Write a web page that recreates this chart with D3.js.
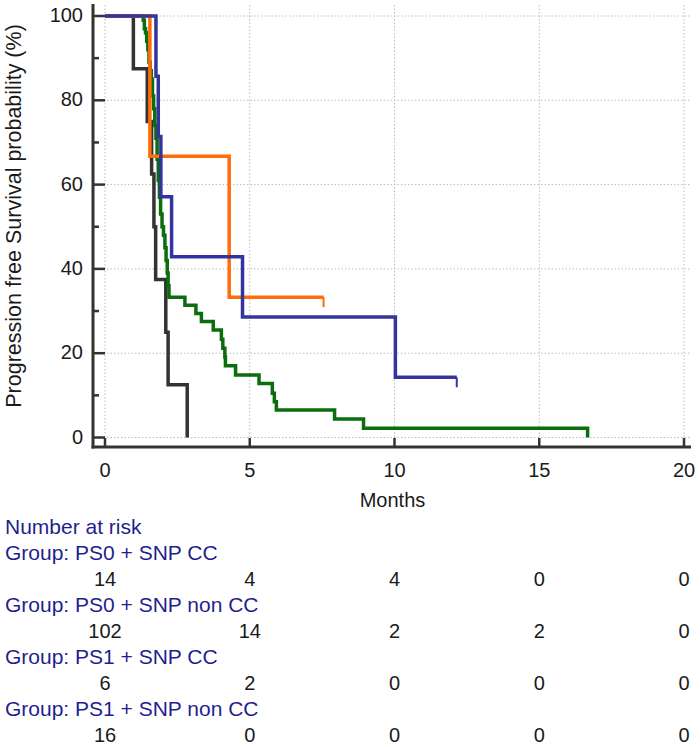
<!DOCTYPE html>
<html>
<head>
<meta charset="utf-8">
<script src="https://cdn.jsdelivr.net/npm/d3@7"></script>
<style>
  body { margin: 0; background: #fff; }
  svg { display: block; font-family: "Liberation Sans", Arial, sans-serif; }
</style>
</head>
<body>
<div id="chart"></div>
<script>
// step data (months, survival %)
var groupNames = ["PS0 + SNP CC", "PS0 + SNP non CC", "PS1 + SNP CC", "PS1 + SNP non CC"];
var groupColors = ["#34349e", "#0b6d0b", "#ff6d0a", "#333333"];

var ps0ccTimes = [0, 1.76, 1.84, 1.93, 2.30, 4.75, 10.03];
var ps0ccSurv  = [100, 85.7, 71.4, 57.1, 42.9, 28.6, 14.3];
var ps0ccEnd = 12.15;
var ps0ccCensor = [12.15];

var ps0nonTimes = [0, 1.32, 1.36, 1.40, 1.44, 1.48, 1.52, 1.56, 1.60, 1.64, 1.68, 1.72, 1.76, 1.80, 1.84, 1.88,
  1.92, 1.97, 2.02, 2.07, 2.11, 2.15, 2.18, 2.21, 2.76, 3.14, 3.33, 3.74, 4.02, 4.07, 4.14, 4.16, 4.51,
  5.32, 5.78, 5.85, 5.92, 7.93, 8.93, 16.67];
var ps0nonSurv  = [100, 99, 97, 96, 94, 92, 89, 87, 85, 81, 78, 74, 71, 66, 61, 57,
  53, 50, 48, 45, 42, 39, 36, 33.3, 31.4, 29.4, 27.5, 25.5, 23.3, 21.2, 19.1, 17.0, 14.8,
  12.8, 10.5, 8.5, 6.5, 4.4, 2.2, 0];
var ps0nonEnd = 16.67;
var ps0nonCensor = [];

var ps1ccTimes = [0, 1.55, 4.29];
var ps1ccSurv  = [100, 66.7, 33.3];
var ps1ccEnd = 7.55;
var ps1ccCensor = [7.55];

var ps1nonTimes = [0, 0.98, 1.46, 1.61, 1.69, 1.75, 2.10, 2.18, 2.84];
var ps1nonSurv  = [100, 87.5, 75, 62.5, 50, 37.5, 25, 12.5, 0];
var ps1nonEnd = 2.84;
var ps1nonCensor = [];

// number at risk at 0, 5, 10, 15, 20 months
var riskTimes = [0, 5, 10, 15, 20];
var riskPs0cc  = [14, 4, 4, 0, 0];
var riskPs0non = [102, 14, 2, 2, 0];
var riskPs1cc  = [6, 2, 0, 0, 0];
var riskPs1non = [16, 0, 0, 0, 0];

var xTicks = [0, 5, 10, 15, 20];
var yTicks = [0, 20, 40, 60, 80, 100];
var yMinorTicks = [10, 30, 50, 70, 90];

var curves = [
  {name: groupNames[3], color: groupColors[3], t: ps1nonTimes, s: ps1nonSurv, end: ps1nonEnd, censor: ps1nonCensor},
  {name: groupNames[1], color: groupColors[1], t: ps0nonTimes, s: ps0nonSurv, end: ps0nonEnd, censor: ps0nonCensor},
  {name: groupNames[2], color: groupColors[2], t: ps1ccTimes, s: ps1ccSurv, end: ps1ccEnd, censor: ps1ccCensor},
  {name: groupNames[0], color: groupColors[0], t: ps0ccTimes, s: ps0ccSurv, end: ps0ccEnd, censor: ps0ccCensor}
];

var riskRows = [
  {name: groupNames[0], n: riskPs0cc},
  {name: groupNames[1], n: riskPs0non},
  {name: groupNames[2], n: riskPs1cc},
  {name: groupNames[3], n: riskPs1non}
];

var width = 700, height = 747;
var axisColor = "#333333", tableBlue = "#1f1f8f", textColor = "#1a1a1a";

var x = d3.scaleLinear().domain([0, 20]).range([105, 684]);
var y = d3.scaleLinear().domain([0, 100]).range([437.5, 16]);

var svg = d3.select("#chart").append("svg")
    .attr("width", width)
    .attr("height", height);

svg.append("rect").attr("width", width).attr("height", height).attr("fill", "#fff");

// grid
var grid = svg.append("g").attr("stroke", "#bdbdbd").attr("stroke-width", 1).attr("stroke-dasharray", "1.5,2");
grid.selectAll(".gx").data(xTicks).enter().append("line")
    .attr("x1", function(d){ return x(d); }).attr("x2", function(d){ return x(d); })
    .attr("y1", 5).attr("y2", 447);
grid.selectAll(".gy").data(yTicks).enter().append("line")
    .attr("x1", 93).attr("x2", 690)
    .attr("y1", function(d){ return y(d); }).attr("y2", function(d){ return y(d); });

// survival curves
var line = d3.line()
    .x(function(d){ return x(d[0]); })
    .y(function(d){ return y(d[1]); })
    .curve(d3.curveStepAfter);

curves.forEach(function(c){
  var pts = c.t.map(function(t, i){ return [t, c.s[i]]; });
  pts.push([c.end, c.s[c.s.length - 1]]);
  svg.append("path")
      .attr("d", line(pts))
      .attr("fill", "none")
      .attr("stroke", c.color)
      .attr("stroke-width", 3.5)
      .attr("stroke-linejoin", "miter");
  c.censor.forEach(function(t){
    var s = c.s[d3.bisectRight(c.t, t) - 1];
    svg.append("line")
        .attr("x1", x(t)).attr("x2", x(t))
        .attr("y1", y(s)).attr("y2", y(s) + 10)
        .attr("stroke", c.color).attr("stroke-width", 2);
  });
});

// axes
var axes = svg.append("g").attr("stroke", axisColor);
axes.append("line").attr("x1", 93).attr("x2", 93).attr("y1", 4).attr("y2", 448.5).attr("stroke-width", 3);
axes.append("line").attr("x1", 91.5).attr("x2", 691).attr("y1", 447).attr("y2", 447).attr("stroke-width", 3);
axes.selectAll(".ty").data(yTicks).enter().append("line")
    .attr("x1", 93).attr("x2", 105)
    .attr("y1", function(d){ return y(d); }).attr("y2", function(d){ return y(d); })
    .attr("stroke-width", 2.5);
axes.selectAll(".tym").data(yMinorTicks).enter().append("line")
    .attr("x1", 93).attr("x2", 99)
    .attr("y1", function(d){ return y(d); }).attr("y2", function(d){ return y(d); })
    .attr("stroke-width", 2.5);
axes.selectAll(".tx").data(xTicks).enter().append("line")
    .attr("x1", function(d){ return x(d); }).attr("x2", function(d){ return x(d); })
    .attr("y1", 447).attr("y2", 438)
    .attr("stroke-width", 2.5);

// tick labels
svg.selectAll(".ly").data(yTicks).enter().append("text")
    .attr("x", 83).attr("y", function(d){ return y(d) + 6; })
    .attr("text-anchor", "end").attr("font-size", 20).attr("fill", textColor)
    .text(function(d){ return d; });
svg.selectAll(".lx").data(xTicks).enter().append("text")
    .attr("x", function(d){ return x(d); }).attr("y", 477)
    .attr("text-anchor", "middle").attr("font-size", 20).attr("fill", textColor)
    .text(function(d){ return d; });

svg.append("text")
    .attr("x", x(10) - 2).attr("y", 507)
    .attr("text-anchor", "middle").attr("font-size", 20).attr("fill", textColor)
    .text("Months");

svg.append("text")
    .attr("transform", "translate(21,216) rotate(-90)")
    .attr("text-anchor", "middle").attr("font-size", 21.5).attr("fill", textColor)
    .text("Progression free Survival probability (%)");

// number at risk table
var rowH = 26, top0 = 534;
svg.append("text").attr("x", 5).attr("y", top0)
    .attr("font-size", 21).attr("fill", tableBlue).text("Number at risk");
riskRows.forEach(function(r, i){
  var yy = top0 + rowH * (1 + 2 * i);
  svg.append("text").attr("x", 5).attr("y", yy)
      .attr("font-size", 21).attr("fill", tableBlue).text("Group: " + r.name);
  svg.selectAll(null).data(r.n).enter().append("text")
      .attr("x", function(d, j){ return x(riskTimes[j]); })
      .attr("y", yy + rowH)
      .attr("text-anchor", "middle").attr("font-size", 20).attr("fill", textColor)
      .text(function(d){ return d; });
});
</script>
</body>
</html>
